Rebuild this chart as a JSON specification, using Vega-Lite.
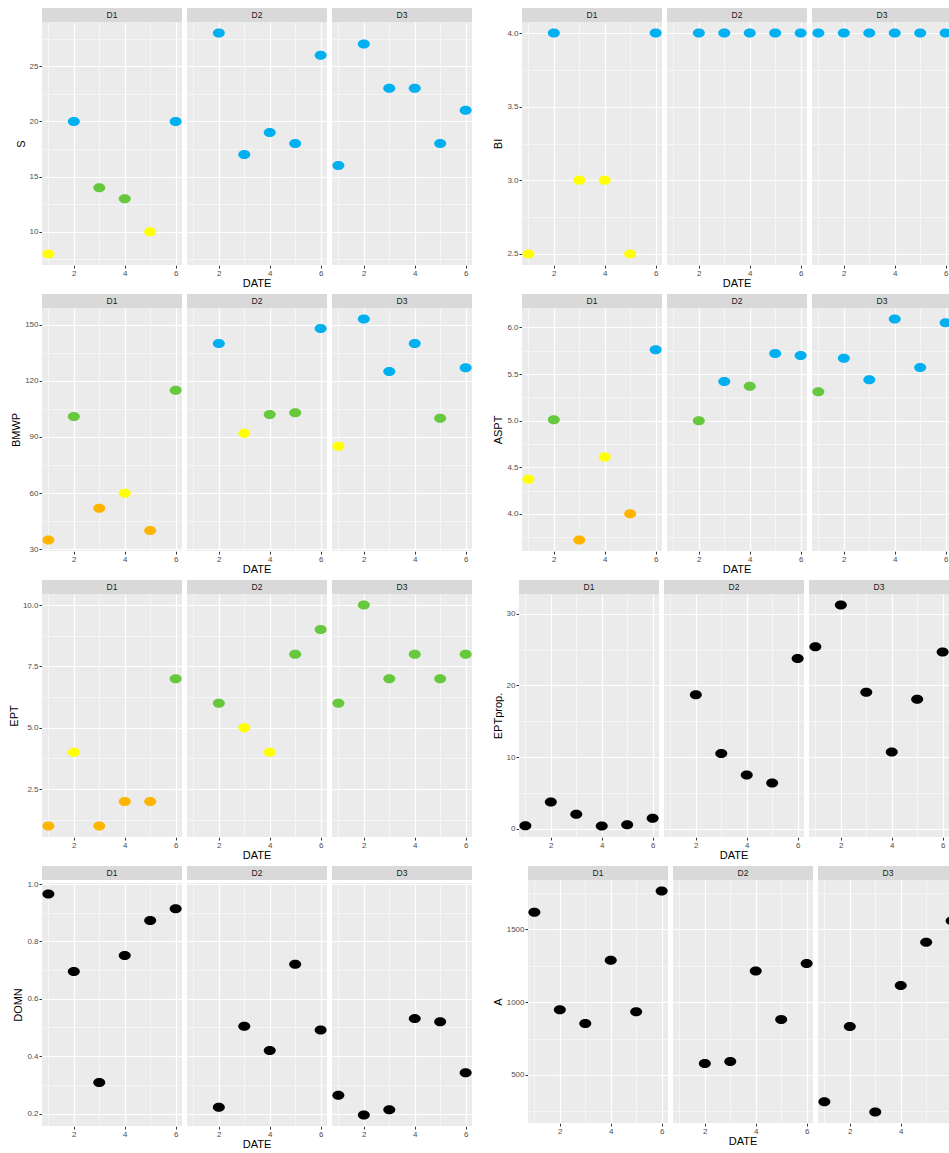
{
  "$schema": "https://vega.github.io/schema/vega-lite/v6.json",
  "padding": {"left": 8, "top": 8, "right": 0, "bottom": 0},
  "datasets": {
    "strips": [{"D": "D1"}, {"D": "D2"}, {"D": "D3"}],
    "pts": [
      {"var": "S", "D": "D1", "DATE": 1, "value": 8, "status": "Moderate"},
      {"var": "S", "D": "D1", "DATE": 2, "value": 20, "status": "Very good"},
      {"var": "S", "D": "D1", "DATE": 3, "value": 14, "status": "Good"},
      {"var": "S", "D": "D1", "DATE": 4, "value": 13, "status": "Good"},
      {"var": "S", "D": "D1", "DATE": 5, "value": 10, "status": "Moderate"},
      {"var": "S", "D": "D1", "DATE": 6, "value": 20, "status": "Very good"},
      {"var": "S", "D": "D2", "DATE": 2, "value": 28, "status": "Very good"},
      {"var": "S", "D": "D2", "DATE": 3, "value": 17, "status": "Very good"},
      {"var": "S", "D": "D2", "DATE": 4, "value": 19, "status": "Very good"},
      {"var": "S", "D": "D2", "DATE": 5, "value": 18, "status": "Very good"},
      {"var": "S", "D": "D2", "DATE": 6, "value": 26, "status": "Very good"},
      {"var": "S", "D": "D3", "DATE": 1, "value": 16, "status": "Very good"},
      {"var": "S", "D": "D3", "DATE": 2, "value": 27, "status": "Very good"},
      {"var": "S", "D": "D3", "DATE": 3, "value": 23, "status": "Very good"},
      {"var": "S", "D": "D3", "DATE": 4, "value": 23, "status": "Very good"},
      {"var": "S", "D": "D3", "DATE": 5, "value": 18, "status": "Very good"},
      {"var": "S", "D": "D3", "DATE": 6, "value": 21, "status": "Very good"},

      {"var": "BI", "D": "D1", "DATE": 1, "value": 2.5, "status": "Moderate"},
      {"var": "BI", "D": "D1", "DATE": 2, "value": 4, "status": "Very good"},
      {"var": "BI", "D": "D1", "DATE": 3, "value": 3, "status": "Moderate"},
      {"var": "BI", "D": "D1", "DATE": 4, "value": 3, "status": "Moderate"},
      {"var": "BI", "D": "D1", "DATE": 5, "value": 2.5, "status": "Moderate"},
      {"var": "BI", "D": "D1", "DATE": 6, "value": 4, "status": "Very good"},
      {"var": "BI", "D": "D2", "DATE": 2, "value": 4, "status": "Very good"},
      {"var": "BI", "D": "D2", "DATE": 3, "value": 4, "status": "Very good"},
      {"var": "BI", "D": "D2", "DATE": 4, "value": 4, "status": "Very good"},
      {"var": "BI", "D": "D2", "DATE": 5, "value": 4, "status": "Very good"},
      {"var": "BI", "D": "D2", "DATE": 6, "value": 4, "status": "Very good"},
      {"var": "BI", "D": "D3", "DATE": 1, "value": 4, "status": "Very good"},
      {"var": "BI", "D": "D3", "DATE": 2, "value": 4, "status": "Very good"},
      {"var": "BI", "D": "D3", "DATE": 3, "value": 4, "status": "Very good"},
      {"var": "BI", "D": "D3", "DATE": 4, "value": 4, "status": "Very good"},
      {"var": "BI", "D": "D3", "DATE": 5, "value": 4, "status": "Very good"},
      {"var": "BI", "D": "D3", "DATE": 6, "value": 4, "status": "Very good"},

      {"var": "BMWP", "D": "D1", "DATE": 1, "value": 35, "status": "Poor"},
      {"var": "BMWP", "D": "D1", "DATE": 2, "value": 101, "status": "Good"},
      {"var": "BMWP", "D": "D1", "DATE": 3, "value": 52, "status": "Poor"},
      {"var": "BMWP", "D": "D1", "DATE": 4, "value": 60, "status": "Moderate"},
      {"var": "BMWP", "D": "D1", "DATE": 5, "value": 40, "status": "Poor"},
      {"var": "BMWP", "D": "D1", "DATE": 6, "value": 115, "status": "Good"},
      {"var": "BMWP", "D": "D2", "DATE": 2, "value": 140, "status": "Very good"},
      {"var": "BMWP", "D": "D2", "DATE": 3, "value": 92, "status": "Moderate"},
      {"var": "BMWP", "D": "D2", "DATE": 4, "value": 102, "status": "Good"},
      {"var": "BMWP", "D": "D2", "DATE": 5, "value": 103, "status": "Good"},
      {"var": "BMWP", "D": "D2", "DATE": 6, "value": 148, "status": "Very good"},
      {"var": "BMWP", "D": "D3", "DATE": 1, "value": 85, "status": "Moderate"},
      {"var": "BMWP", "D": "D3", "DATE": 2, "value": 153, "status": "Very good"},
      {"var": "BMWP", "D": "D3", "DATE": 3, "value": 125, "status": "Very good"},
      {"var": "BMWP", "D": "D3", "DATE": 4, "value": 140, "status": "Very good"},
      {"var": "BMWP", "D": "D3", "DATE": 5, "value": 100, "status": "Good"},
      {"var": "BMWP", "D": "D3", "DATE": 6, "value": 127, "status": "Very good"},

      {"var": "ASPT", "D": "D1", "DATE": 1, "value": 4.37, "status": "Moderate"},
      {"var": "ASPT", "D": "D1", "DATE": 2, "value": 5.01, "status": "Good"},
      {"var": "ASPT", "D": "D1", "DATE": 3, "value": 3.72, "status": "Poor"},
      {"var": "ASPT", "D": "D1", "DATE": 4, "value": 4.61, "status": "Moderate"},
      {"var": "ASPT", "D": "D1", "DATE": 5, "value": 4.0, "status": "Poor"},
      {"var": "ASPT", "D": "D1", "DATE": 6, "value": 5.76, "status": "Very good"},
      {"var": "ASPT", "D": "D2", "DATE": 2, "value": 5.0, "status": "Good"},
      {"var": "ASPT", "D": "D2", "DATE": 3, "value": 5.42, "status": "Very good"},
      {"var": "ASPT", "D": "D2", "DATE": 4, "value": 5.37, "status": "Good"},
      {"var": "ASPT", "D": "D2", "DATE": 5, "value": 5.72, "status": "Very good"},
      {"var": "ASPT", "D": "D2", "DATE": 6, "value": 5.7, "status": "Very good"},
      {"var": "ASPT", "D": "D3", "DATE": 1, "value": 5.31, "status": "Good"},
      {"var": "ASPT", "D": "D3", "DATE": 2, "value": 5.67, "status": "Very good"},
      {"var": "ASPT", "D": "D3", "DATE": 3, "value": 5.44, "status": "Very good"},
      {"var": "ASPT", "D": "D3", "DATE": 4, "value": 6.09, "status": "Very good"},
      {"var": "ASPT", "D": "D3", "DATE": 5, "value": 5.57, "status": "Very good"},
      {"var": "ASPT", "D": "D3", "DATE": 6, "value": 6.05, "status": "Very good"},

      {"var": "EPT", "D": "D1", "DATE": 1, "value": 1, "status": "Poor"},
      {"var": "EPT", "D": "D1", "DATE": 2, "value": 4, "status": "Moderate"},
      {"var": "EPT", "D": "D1", "DATE": 3, "value": 1, "status": "Poor"},
      {"var": "EPT", "D": "D1", "DATE": 4, "value": 2, "status": "Poor"},
      {"var": "EPT", "D": "D1", "DATE": 5, "value": 2, "status": "Poor"},
      {"var": "EPT", "D": "D1", "DATE": 6, "value": 7, "status": "Good"},
      {"var": "EPT", "D": "D2", "DATE": 2, "value": 6, "status": "Good"},
      {"var": "EPT", "D": "D2", "DATE": 3, "value": 5, "status": "Moderate"},
      {"var": "EPT", "D": "D2", "DATE": 4, "value": 4, "status": "Moderate"},
      {"var": "EPT", "D": "D2", "DATE": 5, "value": 8, "status": "Good"},
      {"var": "EPT", "D": "D2", "DATE": 6, "value": 9, "status": "Good"},
      {"var": "EPT", "D": "D3", "DATE": 1, "value": 6, "status": "Good"},
      {"var": "EPT", "D": "D3", "DATE": 2, "value": 10, "status": "Good"},
      {"var": "EPT", "D": "D3", "DATE": 3, "value": 7, "status": "Good"},
      {"var": "EPT", "D": "D3", "DATE": 4, "value": 8, "status": "Good"},
      {"var": "EPT", "D": "D3", "DATE": 5, "value": 7, "status": "Good"},
      {"var": "EPT", "D": "D3", "DATE": 6, "value": 8, "status": "Good"},

      {"var": "EPTprop", "D": "D1", "DATE": 1, "value": 0.46, "status": "Unclassified"},
      {"var": "EPTprop", "D": "D1", "DATE": 2, "value": 3.77, "status": "Unclassified"},
      {"var": "EPTprop", "D": "D1", "DATE": 3, "value": 2.04, "status": "Unclassified"},
      {"var": "EPTprop", "D": "D1", "DATE": 4, "value": 0.42, "status": "Unclassified"},
      {"var": "EPTprop", "D": "D1", "DATE": 5, "value": 0.6, "status": "Unclassified"},
      {"var": "EPTprop", "D": "D1", "DATE": 6, "value": 1.48, "status": "Unclassified"},
      {"var": "EPTprop", "D": "D2", "DATE": 2, "value": 18.7, "status": "Unclassified"},
      {"var": "EPTprop", "D": "D2", "DATE": 3, "value": 10.5, "status": "Unclassified"},
      {"var": "EPTprop", "D": "D2", "DATE": 4, "value": 7.53, "status": "Unclassified"},
      {"var": "EPTprop", "D": "D2", "DATE": 5, "value": 6.42, "status": "Unclassified"},
      {"var": "EPTprop", "D": "D2", "DATE": 6, "value": 23.76, "status": "Unclassified"},
      {"var": "EPTprop", "D": "D3", "DATE": 1, "value": 25.4, "status": "Unclassified"},
      {"var": "EPTprop", "D": "D3", "DATE": 2, "value": 31.2, "status": "Unclassified"},
      {"var": "EPTprop", "D": "D3", "DATE": 3, "value": 19.06, "status": "Unclassified"},
      {"var": "EPTprop", "D": "D3", "DATE": 4, "value": 10.74, "status": "Unclassified"},
      {"var": "EPTprop", "D": "D3", "DATE": 5, "value": 18.09, "status": "Unclassified"},
      {"var": "EPTprop", "D": "D3", "DATE": 6, "value": 24.65, "status": "Unclassified"},

      {"var": "DOMN", "D": "D1", "DATE": 1, "value": 0.965, "status": "Unclassified"},
      {"var": "DOMN", "D": "D1", "DATE": 2, "value": 0.695, "status": "Unclassified"},
      {"var": "DOMN", "D": "D1", "DATE": 3, "value": 0.308, "status": "Unclassified"},
      {"var": "DOMN", "D": "D1", "DATE": 4, "value": 0.751, "status": "Unclassified"},
      {"var": "DOMN", "D": "D1", "DATE": 5, "value": 0.873, "status": "Unclassified"},
      {"var": "DOMN", "D": "D1", "DATE": 6, "value": 0.914, "status": "Unclassified"},
      {"var": "DOMN", "D": "D2", "DATE": 2, "value": 0.222, "status": "Unclassified"},
      {"var": "DOMN", "D": "D2", "DATE": 3, "value": 0.504, "status": "Unclassified"},
      {"var": "DOMN", "D": "D2", "DATE": 4, "value": 0.42, "status": "Unclassified"},
      {"var": "DOMN", "D": "D2", "DATE": 5, "value": 0.72, "status": "Unclassified"},
      {"var": "DOMN", "D": "D2", "DATE": 6, "value": 0.491, "status": "Unclassified"},
      {"var": "DOMN", "D": "D3", "DATE": 1, "value": 0.264, "status": "Unclassified"},
      {"var": "DOMN", "D": "D3", "DATE": 2, "value": 0.195, "status": "Unclassified"},
      {"var": "DOMN", "D": "D3", "DATE": 3, "value": 0.213, "status": "Unclassified"},
      {"var": "DOMN", "D": "D3", "DATE": 4, "value": 0.531, "status": "Unclassified"},
      {"var": "DOMN", "D": "D3", "DATE": 5, "value": 0.52, "status": "Unclassified"},
      {"var": "DOMN", "D": "D3", "DATE": 6, "value": 0.342, "status": "Unclassified"},

      {"var": "A", "D": "D1", "DATE": 1, "value": 1619, "status": "Unclassified"},
      {"var": "A", "D": "D1", "DATE": 2, "value": 948, "status": "Unclassified"},
      {"var": "A", "D": "D1", "DATE": 3, "value": 854, "status": "Unclassified"},
      {"var": "A", "D": "D1", "DATE": 4, "value": 1288, "status": "Unclassified"},
      {"var": "A", "D": "D1", "DATE": 5, "value": 934, "status": "Unclassified"},
      {"var": "A", "D": "D1", "DATE": 6, "value": 1764, "status": "Unclassified"},
      {"var": "A", "D": "D2", "DATE": 2, "value": 578, "status": "Unclassified"},
      {"var": "A", "D": "D2", "DATE": 3, "value": 592, "status": "Unclassified"},
      {"var": "A", "D": "D2", "DATE": 4, "value": 1215, "status": "Unclassified"},
      {"var": "A", "D": "D2", "DATE": 5, "value": 881, "status": "Unclassified"},
      {"var": "A", "D": "D2", "DATE": 6, "value": 1266, "status": "Unclassified"},
      {"var": "A", "D": "D3", "DATE": 1, "value": 316, "status": "Unclassified"},
      {"var": "A", "D": "D3", "DATE": 2, "value": 833, "status": "Unclassified"},
      {"var": "A", "D": "D3", "DATE": 3, "value": 245, "status": "Unclassified"},
      {"var": "A", "D": "D3", "DATE": 4, "value": 1114, "status": "Unclassified"},
      {"var": "A", "D": "D3", "DATE": 5, "value": 1412, "status": "Unclassified"},
      {"var": "A", "D": "D3", "DATE": 6, "value": 1560, "status": "Unclassified"}
    ]
  },
  "spacing": 5,
  "resolve": {"scale": {"x": "independent", "y": "independent"}},
  "vconcat": [
    {
      "hconcat": [
        {"vconcat": [
          {"data": {"name": "strips"}, "facet": {"column": {"field": "D", "type": "nominal", "header": null}}, "spacing": 5,
           "spec": {"width": 140, "height": 14, "view": {"fill": "#D9D9D9", "stroke": null}, "mark": {"type": "text", "fontSize": 8.5, "color": "#1A1A1A"}, "encoding": {"text": {"field": "D", "type": "nominal"}}}},
          {"data": {"name": "pts"}, "transform": [{"filter": {"field": "var", "equal": "S"}}], "facet": {"column": {"field": "D", "type": "nominal", "title": null, "header": {"labelOrient": "bottom", "labelExpr": "datum.value === 'D2' ? 'DATE' : ''"}}}, "spacing": 5,
           "spec": {"width": 140, "height": 243,
             "mark": {"type": "point", "filled": true, "opacity": 1, "size": 144, "shape": "M -1 0 A 1 0.75 0 1 0 1 0 A 1 0.75 0 1 0 -1 0 Z"},
             "encoding": {
               "x": {"field": "DATE", "type": "quantitative", "scale": {"domain": [0.75, 6.25], "nice": false, "zero": false}, "axis": {"title": null, "values": [1, 2, 3, 4, 5, 6], "labelExpr": "datum.value % 2 === 0 ? datum.label : ''", "gridWidth": {"condition": {"test": "datum.value % 2 === 0", "value": 1.2}, "value": 0.5}, "tickOpacity": {"condition": {"test": "datum.value % 2 === 0", "value": 1}, "value": 0}}},
               "y": {"field": "value", "type": "quantitative", "title": "S", "scale": {"domain": [7, 29], "nice": false, "zero": false}, "axis": {"values": [7.5, 10, 12.5, 15, 17.5, 20, 22.5, 25, 27.5], "format": "d", "labelExpr": "abs(datum.value/5 - round(datum.value/5)) < 1e-6 ? datum.label : ''", "gridWidth": {"condition": {"test": "abs(datum.value/5 - round(datum.value/5)) < 1e-6", "value": 1.2}, "value": 0.5}, "tickOpacity": {"condition": {"test": "abs(datum.value/5 - round(datum.value/5)) < 1e-6", "value": 1}, "value": 0}}},
               "color": {"field": "status", "type": "nominal", "scale": {"domain": ["Very good", "Good", "Moderate", "Poor", "Unclassified"], "range": ["#00B0F0", "#66C83C", "#FFFF00", "#FFB400", "#000000"]}, "legend": null}
             }}}
        ], "spacing": 0},
        {"vconcat": [
          {"data": {"name": "strips"}, "facet": {"column": {"field": "D", "type": "nominal", "header": null}}, "spacing": 5,
           "spec": {"width": 140, "height": 14, "view": {"fill": "#D9D9D9", "stroke": null}, "mark": {"type": "text", "fontSize": 8.5, "color": "#1A1A1A"}, "encoding": {"text": {"field": "D", "type": "nominal"}}}},
          {"data": {"name": "pts"}, "transform": [{"filter": {"field": "var", "equal": "BI"}}], "facet": {"column": {"field": "D", "type": "nominal", "title": null, "header": {"labelOrient": "bottom", "labelExpr": "datum.value === 'D2' ? 'DATE' : ''"}}}, "spacing": 5,
           "spec": {"width": 140, "height": 243,
             "mark": {"type": "point", "filled": true, "opacity": 1, "size": 144, "shape": "M -1 0 A 1 0.75 0 1 0 1 0 A 1 0.75 0 1 0 -1 0 Z"},
             "encoding": {
               "x": {"field": "DATE", "type": "quantitative", "scale": {"domain": [0.75, 6.25], "nice": false, "zero": false}, "axis": {"title": null, "values": [1, 2, 3, 4, 5, 6], "labelExpr": "datum.value % 2 === 0 ? datum.label : ''", "gridWidth": {"condition": {"test": "datum.value % 2 === 0", "value": 1.2}, "value": 0.5}, "tickOpacity": {"condition": {"test": "datum.value % 2 === 0", "value": 1}, "value": 0}}},
               "y": {"field": "value", "type": "quantitative", "title": "BI", "scale": {"domain": [2.425, 4.075], "nice": false, "zero": false}, "axis": {"values": [2.5, 2.75, 3, 3.25, 3.5, 3.75, 4], "format": ".1f", "labelExpr": "abs(datum.value/0.5 - round(datum.value/0.5)) < 1e-6 ? datum.label : ''", "gridWidth": {"condition": {"test": "abs(datum.value/0.5 - round(datum.value/0.5)) < 1e-6", "value": 1.2}, "value": 0.5}, "tickOpacity": {"condition": {"test": "abs(datum.value/0.5 - round(datum.value/0.5)) < 1e-6", "value": 1}, "value": 0}}},
               "color": {"field": "status", "type": "nominal", "scale": {"domain": ["Very good", "Good", "Moderate", "Poor", "Unclassified"], "range": ["#00B0F0", "#66C83C", "#FFFF00", "#FFB400", "#000000"]}, "legend": null}
             }}}
        ], "spacing": 0}
      ],
      "spacing": 20,
      "resolve": {"scale": {"x": "independent", "y": "independent"}}
    },
    {
      "hconcat": [
        {"vconcat": [
          {"data": {"name": "strips"}, "facet": {"column": {"field": "D", "type": "nominal", "header": null}}, "spacing": 5,
           "spec": {"width": 140, "height": 14, "view": {"fill": "#D9D9D9", "stroke": null}, "mark": {"type": "text", "fontSize": 8.5, "color": "#1A1A1A"}, "encoding": {"text": {"field": "D", "type": "nominal"}}}},
          {"data": {"name": "pts"}, "transform": [{"filter": {"field": "var", "equal": "BMWP"}}], "facet": {"column": {"field": "D", "type": "nominal", "title": null, "header": {"labelOrient": "bottom", "labelExpr": "datum.value === 'D2' ? 'DATE' : ''"}}}, "spacing": 5,
           "spec": {"width": 140, "height": 243,
             "mark": {"type": "point", "filled": true, "opacity": 1, "size": 144, "shape": "M -1 0 A 1 0.75 0 1 0 1 0 A 1 0.75 0 1 0 -1 0 Z"},
             "encoding": {
               "x": {"field": "DATE", "type": "quantitative", "scale": {"domain": [0.75, 6.25], "nice": false, "zero": false}, "axis": {"title": null, "values": [1, 2, 3, 4, 5, 6], "labelExpr": "datum.value % 2 === 0 ? datum.label : ''", "gridWidth": {"condition": {"test": "datum.value % 2 === 0", "value": 1.2}, "value": 0.5}, "tickOpacity": {"condition": {"test": "datum.value % 2 === 0", "value": 1}, "value": 0}}},
               "y": {"field": "value", "type": "quantitative", "title": "BMWP", "scale": {"domain": [29.1, 158.9], "nice": false, "zero": false}, "axis": {"values": [30, 45, 60, 75, 90, 105, 120, 135, 150], "format": "d", "labelExpr": "abs(datum.value/30 - round(datum.value/30)) < 1e-6 ? datum.label : ''", "gridWidth": {"condition": {"test": "abs(datum.value/30 - round(datum.value/30)) < 1e-6", "value": 1.2}, "value": 0.5}, "tickOpacity": {"condition": {"test": "abs(datum.value/30 - round(datum.value/30)) < 1e-6", "value": 1}, "value": 0}}},
               "color": {"field": "status", "type": "nominal", "scale": {"domain": ["Very good", "Good", "Moderate", "Poor", "Unclassified"], "range": ["#00B0F0", "#66C83C", "#FFFF00", "#FFB400", "#000000"]}, "legend": null}
             }}}
        ], "spacing": 0},
        {"vconcat": [
          {"data": {"name": "strips"}, "facet": {"column": {"field": "D", "type": "nominal", "header": null}}, "spacing": 5,
           "spec": {"width": 140, "height": 14, "view": {"fill": "#D9D9D9", "stroke": null}, "mark": {"type": "text", "fontSize": 8.5, "color": "#1A1A1A"}, "encoding": {"text": {"field": "D", "type": "nominal"}}}},
          {"data": {"name": "pts"}, "transform": [{"filter": {"field": "var", "equal": "ASPT"}}], "facet": {"column": {"field": "D", "type": "nominal", "title": null, "header": {"labelOrient": "bottom", "labelExpr": "datum.value === 'D2' ? 'DATE' : ''"}}}, "spacing": 5,
           "spec": {"width": 140, "height": 243,
             "mark": {"type": "point", "filled": true, "opacity": 1, "size": 144, "shape": "M -1 0 A 1 0.75 0 1 0 1 0 A 1 0.75 0 1 0 -1 0 Z"},
             "encoding": {
               "x": {"field": "DATE", "type": "quantitative", "scale": {"domain": [0.75, 6.25], "nice": false, "zero": false}, "axis": {"title": null, "values": [1, 2, 3, 4, 5, 6], "labelExpr": "datum.value % 2 === 0 ? datum.label : ''", "gridWidth": {"condition": {"test": "datum.value % 2 === 0", "value": 1.2}, "value": 0.5}, "tickOpacity": {"condition": {"test": "datum.value % 2 === 0", "value": 1}, "value": 0}}},
               "y": {"field": "value", "type": "quantitative", "title": "ASPT", "scale": {"domain": [3.6015, 6.2085], "nice": false, "zero": false}, "axis": {"values": [3.75, 4, 4.25, 4.5, 4.75, 5, 5.25, 5.5, 5.75, 6], "format": ".1f", "labelExpr": "abs(datum.value/0.5 - round(datum.value/0.5)) < 1e-6 ? datum.label : ''", "gridWidth": {"condition": {"test": "abs(datum.value/0.5 - round(datum.value/0.5)) < 1e-6", "value": 1.2}, "value": 0.5}, "tickOpacity": {"condition": {"test": "abs(datum.value/0.5 - round(datum.value/0.5)) < 1e-6", "value": 1}, "value": 0}}},
               "color": {"field": "status", "type": "nominal", "scale": {"domain": ["Very good", "Good", "Moderate", "Poor", "Unclassified"], "range": ["#00B0F0", "#66C83C", "#FFFF00", "#FFB400", "#000000"]}, "legend": null}
             }}}
        ], "spacing": 0}
      ],
      "spacing": 20,
      "resolve": {"scale": {"x": "independent", "y": "independent"}}
    },
    {
      "hconcat": [
        {"vconcat": [
          {"data": {"name": "strips"}, "facet": {"column": {"field": "D", "type": "nominal", "header": null}}, "spacing": 5,
           "spec": {"width": 140, "height": 14, "view": {"fill": "#D9D9D9", "stroke": null}, "mark": {"type": "text", "fontSize": 8.5, "color": "#1A1A1A"}, "encoding": {"text": {"field": "D", "type": "nominal"}}}},
          {"data": {"name": "pts"}, "transform": [{"filter": {"field": "var", "equal": "EPT"}}], "facet": {"column": {"field": "D", "type": "nominal", "title": null, "header": {"labelOrient": "bottom", "labelExpr": "datum.value === 'D2' ? 'DATE' : ''"}}}, "spacing": 5,
           "spec": {"width": 140, "height": 243,
             "mark": {"type": "point", "filled": true, "opacity": 1, "size": 144, "shape": "M -1 0 A 1 0.75 0 1 0 1 0 A 1 0.75 0 1 0 -1 0 Z"},
             "encoding": {
               "x": {"field": "DATE", "type": "quantitative", "scale": {"domain": [0.75, 6.25], "nice": false, "zero": false}, "axis": {"title": null, "values": [1, 2, 3, 4, 5, 6], "labelExpr": "datum.value % 2 === 0 ? datum.label : ''", "gridWidth": {"condition": {"test": "datum.value % 2 === 0", "value": 1.2}, "value": 0.5}, "tickOpacity": {"condition": {"test": "datum.value % 2 === 0", "value": 1}, "value": 0}}},
               "y": {"field": "value", "type": "quantitative", "title": "EPT", "scale": {"domain": [0.55, 10.45], "nice": false, "zero": false}, "axis": {"values": [1.25, 2.5, 3.75, 5, 6.25, 7.5, 8.75, 10], "format": ".1f", "labelExpr": "abs(datum.value/2.5 - round(datum.value/2.5)) < 1e-6 ? datum.label : ''", "gridWidth": {"condition": {"test": "abs(datum.value/2.5 - round(datum.value/2.5)) < 1e-6", "value": 1.2}, "value": 0.5}, "tickOpacity": {"condition": {"test": "abs(datum.value/2.5 - round(datum.value/2.5)) < 1e-6", "value": 1}, "value": 0}}},
               "color": {"field": "status", "type": "nominal", "scale": {"domain": ["Very good", "Good", "Moderate", "Poor", "Unclassified"], "range": ["#00B0F0", "#66C83C", "#FFFF00", "#FFB400", "#000000"]}, "legend": null}
             }}}
        ], "spacing": 0},
        {"vconcat": [
          {"data": {"name": "strips"}, "facet": {"column": {"field": "D", "type": "nominal", "header": null}}, "spacing": 5,
           "spec": {"width": 140, "height": 14, "view": {"fill": "#D9D9D9", "stroke": null}, "mark": {"type": "text", "fontSize": 8.5, "color": "#1A1A1A"}, "encoding": {"text": {"field": "D", "type": "nominal"}}}},
          {"data": {"name": "pts"}, "transform": [{"filter": {"field": "var", "equal": "EPTprop"}}], "facet": {"column": {"field": "D", "type": "nominal", "title": null, "header": {"labelOrient": "bottom", "labelExpr": "datum.value === 'D2' ? 'DATE' : ''"}}}, "spacing": 5,
           "spec": {"width": 140, "height": 243,
             "mark": {"type": "point", "filled": true, "opacity": 1, "size": 144, "shape": "M -1 0 A 1 0.75 0 1 0 1 0 A 1 0.75 0 1 0 -1 0 Z"},
             "encoding": {
               "x": {"field": "DATE", "type": "quantitative", "scale": {"domain": [0.75, 6.25], "nice": false, "zero": false}, "axis": {"title": null, "values": [1, 2, 3, 4, 5, 6], "labelExpr": "datum.value % 2 === 0 ? datum.label : ''", "gridWidth": {"condition": {"test": "datum.value % 2 === 0", "value": 1.2}, "value": 0.5}, "tickOpacity": {"condition": {"test": "datum.value % 2 === 0", "value": 1}, "value": 0}}},
               "y": {"field": "value", "type": "quantitative", "title": "EPTprop.", "scale": {"domain": [-1.119, 32.739], "nice": false, "zero": false}, "axis": {"values": [0, 5, 10, 15, 20, 25, 30], "format": "d", "labelExpr": "abs(datum.value/10 - round(datum.value/10)) < 1e-6 ? datum.label : ''", "gridWidth": {"condition": {"test": "abs(datum.value/10 - round(datum.value/10)) < 1e-6", "value": 1.2}, "value": 0.5}, "tickOpacity": {"condition": {"test": "abs(datum.value/10 - round(datum.value/10)) < 1e-6", "value": 1}, "value": 0}}},
               "color": {"field": "status", "type": "nominal", "scale": {"domain": ["Very good", "Good", "Moderate", "Poor", "Unclassified"], "range": ["#00B0F0", "#66C83C", "#FFFF00", "#FFB400", "#000000"]}, "legend": null}
             }}}
        ], "spacing": 0}
      ],
      "spacing": 20,
      "resolve": {"scale": {"x": "independent", "y": "independent"}}
    },
    {
      "hconcat": [
        {"vconcat": [
          {"data": {"name": "strips"}, "facet": {"column": {"field": "D", "type": "nominal", "header": null}}, "spacing": 5,
           "spec": {"width": 140, "height": 14, "view": {"fill": "#D9D9D9", "stroke": null}, "mark": {"type": "text", "fontSize": 8.5, "color": "#1A1A1A"}, "encoding": {"text": {"field": "D", "type": "nominal"}}}},
          {"data": {"name": "pts"}, "transform": [{"filter": {"field": "var", "equal": "DOMN"}}], "facet": {"column": {"field": "D", "type": "nominal", "title": null, "header": {"labelOrient": "bottom", "labelExpr": "datum.value === 'D2' ? 'DATE' : ''"}}}, "spacing": 5,
           "spec": {"width": 140, "height": 243,
             "mark": {"type": "point", "filled": true, "opacity": 1, "size": 144, "shape": "M -1 0 A 1 0.75 0 1 0 1 0 A 1 0.75 0 1 0 -1 0 Z"},
             "encoding": {
               "x": {"field": "DATE", "type": "quantitative", "scale": {"domain": [0.75, 6.25], "nice": false, "zero": false}, "axis": {"title": null, "values": [1, 2, 3, 4, 5, 6], "labelExpr": "datum.value % 2 === 0 ? datum.label : ''", "gridWidth": {"condition": {"test": "datum.value % 2 === 0", "value": 1.2}, "value": 0.5}, "tickOpacity": {"condition": {"test": "datum.value % 2 === 0", "value": 1}, "value": 0}}},
               "y": {"field": "value", "type": "quantitative", "title": "DOMN", "scale": {"domain": [0.1565, 1.0035], "nice": false, "zero": false}, "axis": {"values": [0.2, 0.3, 0.4, 0.5, 0.6, 0.7, 0.8, 0.9, 1.0], "format": ".1f", "labelExpr": "abs(datum.value/0.2 - round(datum.value/0.2)) < 1e-6 ? datum.label : ''", "gridWidth": {"condition": {"test": "abs(datum.value/0.2 - round(datum.value/0.2)) < 1e-6", "value": 1.2}, "value": 0.5}, "tickOpacity": {"condition": {"test": "abs(datum.value/0.2 - round(datum.value/0.2)) < 1e-6", "value": 1}, "value": 0}}},
               "color": {"field": "status", "type": "nominal", "scale": {"domain": ["Very good", "Good", "Moderate", "Poor", "Unclassified"], "range": ["#00B0F0", "#66C83C", "#FFFF00", "#FFB400", "#000000"]}, "legend": null}
             }}}
        ], "spacing": 0},
        {"vconcat": [
          {"data": {"name": "strips"}, "facet": {"column": {"field": "D", "type": "nominal", "header": null}}, "spacing": 5,
           "spec": {"width": 140, "height": 14, "view": {"fill": "#D9D9D9", "stroke": null}, "mark": {"type": "text", "fontSize": 8.5, "color": "#1A1A1A"}, "encoding": {"text": {"field": "D", "type": "nominal"}}}},
          {"data": {"name": "pts"}, "transform": [{"filter": {"field": "var", "equal": "A"}}], "facet": {"column": {"field": "D", "type": "nominal", "title": null, "header": {"labelOrient": "bottom", "labelExpr": "datum.value === 'D2' ? 'DATE' : ''"}}}, "spacing": 5,
           "spec": {"width": 140, "height": 243,
             "mark": {"type": "point", "filled": true, "opacity": 1, "size": 144, "shape": "M -1 0 A 1 0.75 0 1 0 1 0 A 1 0.75 0 1 0 -1 0 Z"},
             "encoding": {
               "x": {"field": "DATE", "type": "quantitative", "scale": {"domain": [0.75, 6.25], "nice": false, "zero": false}, "axis": {"title": null, "values": [1, 2, 3, 4, 5, 6], "labelExpr": "datum.value % 2 === 0 ? datum.label : ''", "gridWidth": {"condition": {"test": "datum.value % 2 === 0", "value": 1.2}, "value": 0.5}, "tickOpacity": {"condition": {"test": "datum.value % 2 === 0", "value": 1}, "value": 0}}},
               "y": {"field": "value", "type": "quantitative", "title": "A", "scale": {"domain": [169.05, 1839.95], "nice": false, "zero": false}, "axis": {"values": [250, 500, 750, 1000, 1250, 1500, 1750], "format": "d", "labelExpr": "abs(datum.value/500 - round(datum.value/500)) < 1e-6 ? datum.label : ''", "gridWidth": {"condition": {"test": "abs(datum.value/500 - round(datum.value/500)) < 1e-6", "value": 1.2}, "value": 0.5}, "tickOpacity": {"condition": {"test": "abs(datum.value/500 - round(datum.value/500)) < 1e-6", "value": 1}, "value": 0}}},
               "color": {"field": "status", "type": "nominal", "scale": {"domain": ["Very good", "Good", "Moderate", "Poor", "Unclassified"], "range": ["#00B0F0", "#66C83C", "#FFFF00", "#FFB400", "#000000"]}, "legend": null}
             }}}
        ], "spacing": 0}
      ],
      "spacing": 20,
      "resolve": {"scale": {"x": "independent", "y": "independent"}}
    }
  ],
  "config": {
    "font": "Liberation Sans",
    "view": {"fill": "#EBEBEB", "stroke": null},
    "header": {"labelFontSize": 11, "labelColor": "#000000", "labelPadding": 1, "labelFont": "Liberation Sans", "labelBaseline": "top"},
    "axis": {"domain": false, "gridColor": "#FFFFFF", "gridOpacity": 1, "tickColor": "#333333", "tickSize": 3, "labelColor": "#4D4D4D", "labelFontSize": 8, "labelPadding": 1, "titleFontSize": 11, "titleFontWeight": "normal", "titleColor": "#000000", "titlePadding": 3, "labelFont": "Liberation Sans", "titleFont": "Liberation Sans"}
  }
}
